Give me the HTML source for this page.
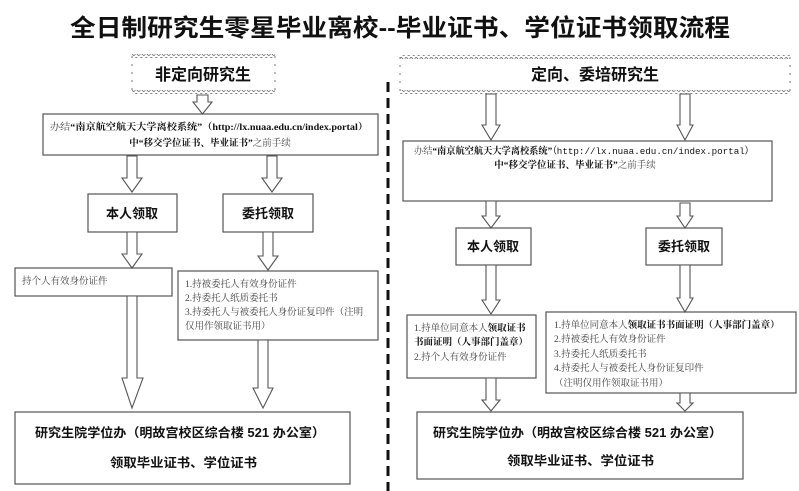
<!DOCTYPE html>
<html><head><meta charset="utf-8"><style>
html,body{margin:0;padding:0;background:#fff;}
svg{display:block;}
text{font-family:"Liberation Sans","Noto Sans CJK SC",sans-serif;fill:#111;}
.s{font-family:"Liberation Serif","Noto Serif CJK SC","Noto Sans CJK SC",serif;font-size:9.5px;fill:#444;}
.b{font-weight:bold;fill:#111;}
.box{fill:#fff;stroke:#555;stroke-width:1.2;}
.ar{fill:#fff;stroke:#555;stroke-width:1.1;}
</style></head><body>
<svg width="799" height="491" viewBox="0 0 799 491" xmlns="http://www.w3.org/2000/svg">
<defs>
<pattern id="wv" x="0" y="0" width="5" height="4" patternUnits="userSpaceOnUse">
<path d="M0 2.5 Q1.25 0.5 2.5 2.5 T5 2.5" fill="none" stroke="#777" stroke-width="0.9"/>
</pattern>
</defs>
<text x="400" y="36" text-anchor="middle" font-size="24" font-weight="bold" textLength="660" lengthAdjust="spacingAndGlyphs">全日制研究生零星毕业离校--毕业证书、学位证书领取流程</text>

<!-- divider -->
<line x1="388" y1="82" x2="388" y2="491" stroke="#111" stroke-width="3" stroke-dasharray="10,6"/>

<!-- wavy boxes -->
<rect x="132" y="54" width="143" height="4" fill="url(#wv)"/>
<rect x="132" y="90" width="143" height="4" fill="url(#wv)"/>
<rect x="400" y="55" width="390" height="4" fill="url(#wv)"/>
<rect x="400" y="90" width="390" height="4" fill="url(#wv)"/>
<g fill="none" stroke="#777" stroke-width="1">
<line x1="132" y1="56" x2="132" y2="92" stroke-dasharray="2,6"/>
<line x1="275" y1="56" x2="275" y2="92" stroke-dasharray="2,6"/>
<line x1="400" y1="57" x2="400" y2="92" stroke-dasharray="2,6"/>
<line x1="790" y1="57" x2="790" y2="92" stroke-dasharray="2,6"/>
</g>
<text x="203" y="80" text-anchor="middle" font-size="16" font-weight="bold">非定向研究生</text>
<text x="595" y="80" text-anchor="middle" font-size="16" font-weight="bold">定向、委培研究生</text>

<!-- boxes -->
<rect class="box" x="43" y="114" width="335" height="41"/>
<rect class="box" x="88" y="194" width="89" height="38"/>
<rect class="box" x="223" y="194" width="90" height="38"/>
<rect class="box" x="15" y="268" width="157" height="28"/>
<rect class="box" x="178" y="271" width="200" height="69"/>
<rect class="box" x="15" y="412" width="335" height="72"/>

<rect class="box" x="403" y="141" width="369" height="60"/>
<rect class="box" x="456" y="228" width="75" height="37"/>
<rect class="box" x="646" y="228" width="76" height="37"/>
<rect class="box" x="407" y="315" width="129" height="63"/>
<rect class="box" x="546" y="312" width="250" height="81"/>
<rect class="box" x="417" y="412" width="326" height="67"/>

<!-- arrows -->
<g class="ar">
<polygon points="197,95 197,102 193,102 202.5,114 212,102 208,102 208,95"/>
<polygon points="127,156 127,178 122,178 132,192 142,178 137,178 137,156"/>
<polygon points="267,156 267,178 262,178 272,192 282,178 277,178 277,156"/>
<polygon points="127,232 127,254 122,254 132,268 142,254 137,254 137,232"/>
<polygon points="263,232 263,256 258,256 268,270 278,256 273,256 273,232"/>
<polygon points="127,296 127,378 122,378 132,408 143,378 137,378 137,296"/>
<polygon points="258,340 258,388 253,388 263,408 273,388 268,388 268,340"/>

<polygon points="486,94 486,125 482,125 491,140 500,125 496,125 496,94"/>
<polygon points="680,94 680,125 677,125 685,140 693,125 690,125 690,94"/>
<polygon points="486,201 486,216 482,216 491,228 500,216 496,216 496,201"/>
<polygon points="680,203 680,216 677,216 685,228 693,216 690,216 690,203"/>
<polygon points="486,265 486,300 482,300 491,314 500,300 496,300 496,265"/>
<polygon points="680,265 680,298 677,298 685,312 693,298 690,298 690,265"/>
<polygon points="486,378 486,400 482,400 491,411 500,400 496,400 496,378"/>
<polygon points="680,393 680,403 677,403 685,411 693,403 690,403 690,393"/>
</g>

<!-- box1 texts -->
<text class="s" x="50" y="130" textLength="318" lengthAdjust="spacingAndGlyphs">办结<tspan class="b">“南京航空航天大学离校系统”（http://lx.nuaa.edu.cn/index.portal）</tspan></text>
<text class="s" x="210" y="146" text-anchor="middle"><tspan class="b">中“移交学位证书、毕业证书”</tspan>之前手续</text>
<text class="s" x="414" y="154" textLength="340" lengthAdjust="spacingAndGlyphs">办结<tspan class="b">“南京航空航天大学离校系统”</tspan><tspan fill="#111" font-family="Liberation Mono,monospace">（http://lx.nuaa.edu.cn/index.portal）</tspan></text>
<text class="s" x="575" y="168" text-anchor="middle"><tspan class="b">中“移交学位证书、毕业证书”</tspan>之前手续</text>

<text x="132" y="218" text-anchor="middle" font-size="13" font-weight="bold">本人领取</text>
<text x="268" y="218" text-anchor="middle" font-size="13" font-weight="bold">委托领取</text>
<text x="493" y="251" text-anchor="middle" font-size="13" font-weight="bold">本人领取</text>
<text x="684" y="251" text-anchor="middle" font-size="13" font-weight="bold">委托领取</text>

<text class="s" x="22" y="284">持个人有效身份证件</text>
<text class="s" x="185" y="287">1.持被委托人有效身份证件</text>
<text class="s" x="185" y="301">2.持委托人纸质委托书</text>
<text class="s" x="185" y="315">3.持委托人与被委托人身份证复印件（注明</text>
<text class="s" x="185" y="329">仅用作领取证书用）</text>

<text class="s" x="414" y="331">1.持单位同意本人<tspan class="b">领取证书</tspan></text>
<text class="s b" x="414" y="345">书面证明（人事部门盖章）</text>
<text class="s" x="414" y="360">2.持个人有效身份证件</text>

<text class="s" x="554" y="328">1.持单位同意本人<tspan class="b">领取证书书面证明（人事部门盖章）</tspan></text>
<text class="s" x="554" y="342">2.持被委托人有效身份证件</text>
<text class="s" x="554" y="357">3.持委托人纸质委托书</text>
<text class="s" x="554" y="371">4.持委托人与被委托人身份证复印件</text>
<text class="s" x="554" y="386">（注明仅用作领取证书用）</text>

<text x="35" y="437" font-size="12.5" font-weight="bold" textLength="290" lengthAdjust="spacingAndGlyphs">研究生院学位办（明故宫校区综合楼 521 办公室）</text>
<text x="110" y="467" font-size="12.5" font-weight="bold" textLength="147" lengthAdjust="spacingAndGlyphs">领取毕业证书、学位证书</text>
<text x="433" y="437" font-size="12.5" font-weight="bold" textLength="289" lengthAdjust="spacingAndGlyphs">研究生院学位办（明故宫校区综合楼 521 办公室）</text>
<text x="507" y="465" font-size="12.5" font-weight="bold" textLength="147" lengthAdjust="spacingAndGlyphs">领取毕业证书、学位证书</text>
</svg>
</body></html>
